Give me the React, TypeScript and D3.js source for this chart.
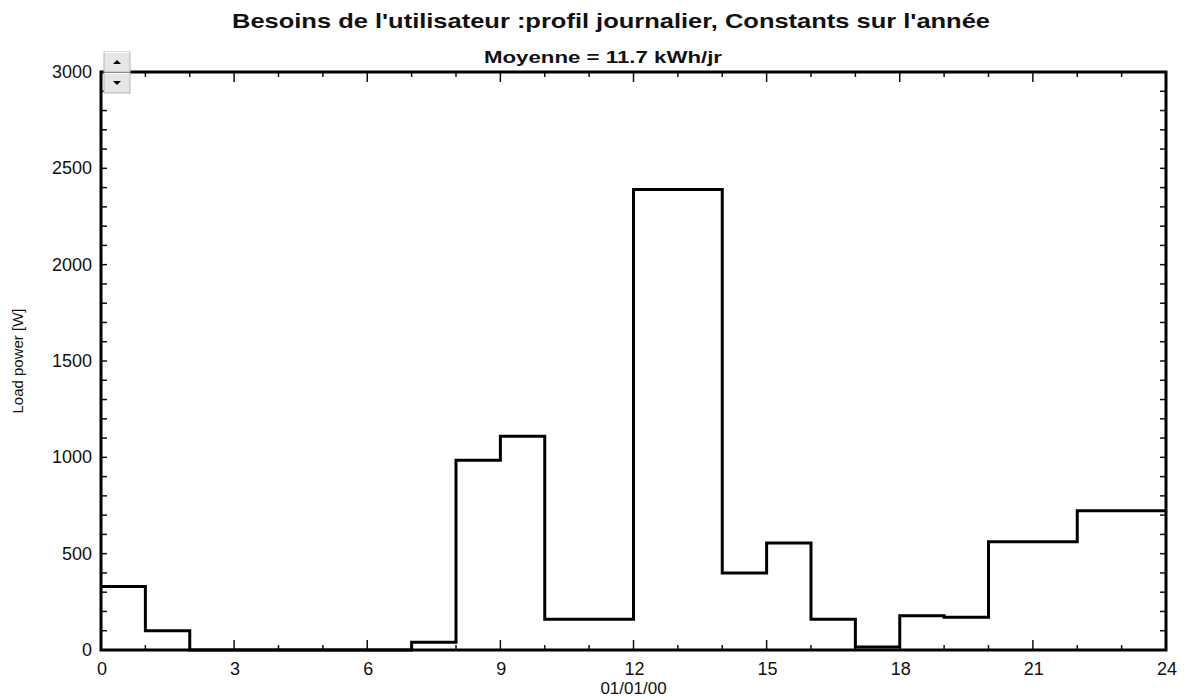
import React, { useEffect, useRef } from 'react';
import * as d3 from 'd3';

// hourly load profile (W), one value per hour starting at 0h
const hours = [0, 1, 2, 3, 4, 5, 6, 7, 8, 9, 10, 11, 12, 13, 14, 15, 16, 17, 18, 19, 20, 21, 22, 23];
const loadW = [330, 100, 0, 0, 0, 0, 0, 40, 985, 1110, 160, 160, 2390, 2390, 400, 555, 160, 15, 178, 170, 562, 562, 723, 723];
const xTickLabels = [0, 3, 6, 9, 12, 15, 18, 21, 24];
const yTickLabels = [0, 500, 1000, 1500, 2000, 2500, 3000];

const title = "Besoins de l'utilisateur :profil journalier, Constants sur l'année";
const subtitle = 'Moyenne = 11.7 kWh/jr';

const W = 1186;
const H = 697;

const App: React.FC = () => {
    const svgRef = useRef<SVGSVGElement>(null);

    useEffect(() => {
        if (!svgRef.current) return;
        const svg = d3.select(svgRef.current);
        svg.selectAll('*').remove();

        const left = 101, right = 1166, top = 72, bottom = 650;
        const font = "'Liberation Sans', Arial, sans-serif";
        const ink = '#111';

        const x = d3.scaleLinear().domain([0, 24]).range([left, right]);
        const y = d3.scaleLinear().domain([0, 3000]).range([bottom, top]);

        svg.append('rect').attr('width', W).attr('height', H).attr('fill', '#fff');

        // titles (the original renders wide, so stretch them to its width)
        svg.append('text')
            .attr('x', 232).attr('y', 28)
            .attr('textLength', 758).attr('lengthAdjust', 'spacingAndGlyphs')
            .style('font-family', font).style('font-weight', 'bold').style('font-size', '21px')
            .attr('fill', ink)
            .text(title);
        svg.append('text')
            .attr('x', 484).attr('y', 63)
            .attr('textLength', 238).attr('lengthAdjust', 'spacingAndGlyphs')
            .style('font-family', font).style('font-weight', 'bold').style('font-size', '17px')
            .attr('fill', ink)
            .text(subtitle);

        // minor/major ticks on all four sides
        d3.range(0, 25).forEach(h => {
            const len = h % 3 === 0 ? 10 : 5;
            svg.append('line')
                .attr('x1', x(h)).attr('x2', x(h))
                .attr('y1', bottom).attr('y2', bottom - len)
                .attr('stroke', ink).attr('stroke-width', 1.5);
            svg.append('line')
                .attr('x1', x(h)).attr('x2', x(h))
                .attr('y1', top).attr('y2', top + len)
                .attr('stroke', ink).attr('stroke-width', 1.5);
        });
        d3.range(0, 3001, 100).forEach(v => {
            svg.append('line')
                .attr('x1', left).attr('x2', left + 6)
                .attr('y1', y(v)).attr('y2', y(v))
                .attr('stroke', ink).attr('stroke-width', 1.5);
            svg.append('line')
                .attr('x1', right).attr('x2', right - 6)
                .attr('y1', y(v)).attr('y2', y(v))
                .attr('stroke', ink).attr('stroke-width', 1.5);
        });

        // tick labels
        svg.append('g').selectAll('text')
            .data(xTickLabels).join('text')
            .attr('x', d => x(d) + 1).attr('y', 675)
            .attr('text-anchor', 'middle')
            .style('font-family', font).style('font-size', '18px')
            .attr('fill', ink)
            .text(d => String(d));
        svg.append('g').selectAll('text')
            .data(yTickLabels).join('text')
            .attr('x', 92).attr('y', d => y(d) + 6)
            .attr('text-anchor', 'end')
            .style('font-family', font).style('font-size', '18px')
            .attr('fill', ink)
            .text(d => String(d));

        // axis titles
        svg.append('text')
            .attr('x', x(12)).attr('y', 694)
            .attr('text-anchor', 'middle')
            .style('font-family', font).style('font-size', '17px')
            .attr('fill', ink)
            .text('01/01/00');
        svg.append('text')
            .attr('transform', `translate(23, ${(top + bottom) / 2}) rotate(-90)`)
            .attr('text-anchor', 'middle')
            .style('font-family', "'Liberation Sans Narrow', 'Arial Narrow', 'Liberation Sans', sans-serif")
            .style('font-size', '15px')
            .attr('fill', ink)
            .text('Load power [W]');

        // step profile
        const pts: [number, number][] = hours.map((h, i) => [h, loadW[i]]);
        pts.push([24, loadW[loadW.length - 1]]);
        const line = d3.line<[number, number]>()
            .x(d => x(d[0]))
            .y(d => y(d[1]))
            .curve(d3.curveStepAfter);
        svg.append('path')
            .datum(pts)
            .attr('fill', 'none')
            .attr('stroke', '#000')
            .attr('stroke-width', 3)
            .attr('d', line);

        // frame
        svg.append('rect')
            .attr('x', left).attr('y', top)
            .attr('width', right - left).attr('height', bottom - top)
            .attr('fill', 'none').attr('stroke', '#000').attr('stroke-width', 3);

        // little spinner buttons at the top left corner
        const btn = svg.append('g');
        [[52, true], [73, false]].forEach(([by, up]) => {
            const yy = by as number;
            btn.append('rect')
                .attr('x', 104).attr('y', yy).attr('width', 26).attr('height', 20)
                .attr('fill', '#e6e6e6').attr('stroke', '#b5b5b5').attr('stroke-width', 1);
            btn.append('line').attr('x1', 104.5).attr('x2', 129.5).attr('y1', yy + 0.5).attr('y2', yy + 0.5)
                .attr('stroke', '#fff');
            const cx = 117, cy = yy + 10;
            const tri = up
                ? `M${cx - 4},${cy + 2}L${cx + 4},${cy + 2}L${cx},${cy - 2}Z`
                : `M${cx - 4},${cy - 2}L${cx + 4},${cy - 2}L${cx},${cy + 2}Z`;
            btn.append('path').attr('d', tri).attr('fill', '#000');
        });
    }, []);

    return (
        <svg
            ref={svgRef}
            width={W}
            height={H}
            style={{ position: 'absolute', left: 0, top: 0 }}
        />
    );
};

export default App;
